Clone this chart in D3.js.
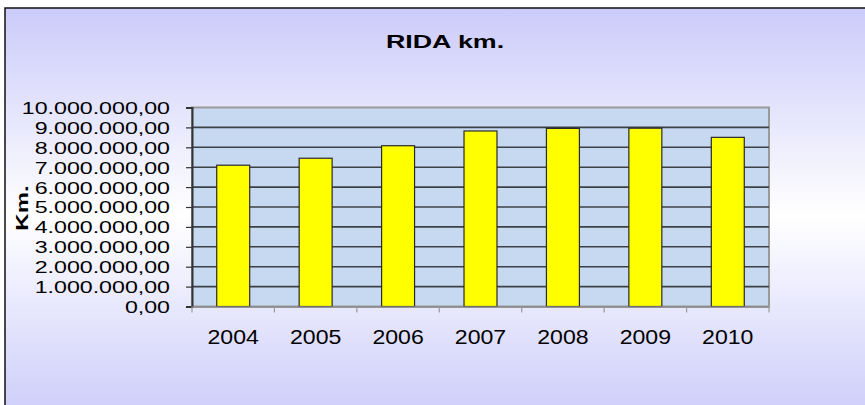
<!DOCTYPE html>
<html>
<head>
<meta charset="utf-8">
<script src="https://cdn.jsdelivr.net/npm/d3@7"></script>
<style>
  body { margin: 0; background: #fff; }
  text { font-family: Arial, "Liberation Sans", sans-serif; fill: #000; }
</style>
</head>
<body>
<div id="chart"></div>
<script>
// data
const years = ["2004", "2005", "2006", "2007", "2008", "2009", "2010"];
const km = [7100000, 7450000, 8080000, 8820000, 8950000, 8960000, 8500000];
const yTicks = [0, 1000000, 2000000, 3000000, 4000000, 5000000, 6000000, 7000000, 8000000, 9000000, 10000000];

const W = 865, H = 405;
const plot = { left: 192, right: 769, top: 107.5, bottom: 306.5 };

const svg = d3.select("#chart").append("svg")
  .attr("width", W)
  .attr("height", H);

// background gradient (lavender -> white -> lavender)
const grad = svg.append("defs").append("linearGradient")
  .attr("id", "bg")
  .attr("x1", 0).attr("y1", 0).attr("x2", 0).attr("y2", 1);
grad.append("stop").attr("offset", "0%").attr("stop-color", "#cbcbfa");
grad.append("stop").attr("offset", "50%").attr("stop-color", "#ffffff");
grad.append("stop").attr("offset", "100%").attr("stop-color", "#cbcbfa");

svg.append("rect")
  .attr("x", 5).attr("y", 8)
  .attr("width", W + 10).attr("height", H + 10)
  .attr("fill", "url(#bg)")
  .attr("stroke", "#111")
  .attr("stroke-width", 1.5);

// title
svg.append("g")
  .attr("transform", "translate(445,48)")
  .append("text")
  .attr("text-anchor", "middle")
  .attr("transform", "scale(1.45,1)")
  .style("font-size", "18.5px")
  .style("font-weight", "bold")
  .text("RIDA km.");

// scales
const x = d3.scaleBand()
  .domain(years)
  .range([plot.left, plot.right])
  .paddingInner(0.6)
  .paddingOuter(0.3);

const y = d3.scaleLinear()
  .domain([0, 10000000])
  .range([plot.bottom, plot.top]);

const locale = d3.formatLocale({ decimal: ",", thousands: ".", grouping: [3], currency: ["", ""] });
const fmt = locale.format(",.2f");

// plot area
svg.append("rect")
  .attr("x", plot.left)
  .attr("y", plot.top)
  .attr("width", plot.right - plot.left)
  .attr("height", plot.bottom - plot.top)
  .attr("fill", "#c6d9f0")
  .attr("stroke", "#9a9a9a")
  .attr("stroke-width", 2);

// gridlines
svg.append("g")
  .selectAll("line")
  .data(yTicks.filter(d => d > 0 && d < 10000000))
  .join("line")
  .attr("x1", plot.left)
  .attr("x2", plot.right)
  .attr("y1", d => y(d))
  .attr("y2", d => y(d))
  .attr("stroke", "#3c4047")
  .attr("stroke-width", 1.6);

// bars
svg.append("g")
  .selectAll("rect")
  .data(km)
  .join("rect")
  .attr("x", (d, i) => x(years[i]))
  .attr("y", d => y(d))
  .attr("width", x.bandwidth())
  .attr("height", d => y(0) - y(d))
  .attr("fill", "#ffff00")
  .attr("stroke", "#2a2a2a")
  .attr("stroke-width", 1.2);

// y axis
const ys = 1.45;
const yAxis = svg.append("g")
  .attr("transform", `translate(${plot.left},0)`)
  .call(d3.axisLeft(y).tickValues(yTicks).tickFormat(fmt).tickSize(6).tickPadding(0));
yAxis.select(".domain").attr("stroke", "#333").attr("stroke-width", 2);
yAxis.selectAll(".tick line").attr("stroke", "#333").attr("stroke-width", 1.2);
yAxis.selectAll(".tick text")
  .attr("x", -22 / ys)
  .attr("dy", "0.37em")
  .attr("transform", `scale(${ys},1)`)
  .style("font-size", "16px")
  .style("font-family", "Arial, 'Liberation Sans', sans-serif");

// x axis: labels at category centres, ticks at boundaries
const xAxis = svg.append("g")
  .attr("transform", `translate(0,${plot.bottom})`)
  .call(d3.axisBottom(x).tickSize(0).tickPadding(23));
xAxis.select(".domain").attr("stroke", "#888").attr("stroke-width", 1.5);
xAxis.selectAll(".tick text")
  .attr("transform", "scale(1.1,1)")
  .style("font-size", "21px")
  .style("font-family", "Arial, 'Liberation Sans', sans-serif");

const bounds = years.map(d => x(d) - x.step() * x.paddingOuter()).concat([plot.right]);
xAxis.append("g")
  .selectAll("line")
  .data(bounds)
  .join("line")
  .attr("x1", d => d)
  .attr("x2", d => d)
  .attr("y1", 0)
  .attr("y2", 6)
  .attr("stroke", "#999")
  .attr("stroke-width", 1.2);

// y axis title
svg.append("g")
  .attr("transform", "translate(28,208) rotate(-90)")
  .append("text")
  .attr("text-anchor", "middle")
  .attr("transform", "scale(1.5,1)")
  .style("font-size", "16px")
  .style("font-weight", "bold")
  .text("Km.");
</script>
</body>
</html>
